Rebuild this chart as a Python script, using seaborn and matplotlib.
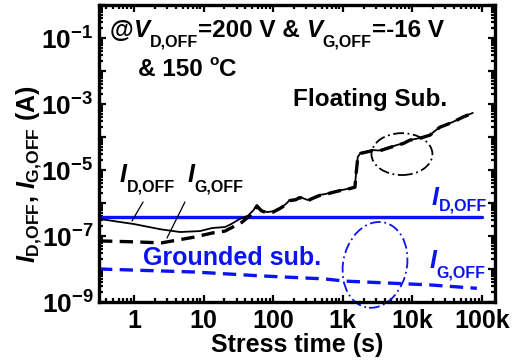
import numpy as np
import pandas as pd
import seaborn as sns
import matplotlib
matplotlib.use("Agg")
import matplotlib.pyplot as plt
from matplotlib.patches import Ellipse
from matplotlib.transforms import ScaledTranslation
from matplotlib.ticker import FixedLocator, LogLocator, FuncFormatter, NullFormatter

# ---- data -------------------------------------------------------------
# grounded substrate
gnd_id_t = [0.314, 1.0e5]
gnd_id = [3.8e-7, 3.8e-7]
gnd_ig_t = [0.314, 7.5, 65, 556, 1070, 17800, 85000]
gnd_ig = [1.0e-8, 8.1e-9, 6.2e-9, 5.0e-9, 4.3e-9, 3.3e-9, 2.6e-9]

# floating substrate
flt_id_t = [0.314, 1.0, 2.4, 4.6, 8.9, 13.2, 20.3, 25, 33.3, 43.4, 52, 58.5,
            68, 81.5, 100, 125, 150, 174, 210, 243, 280, 316, 390, 470, 580,
            723, 900, 1150, 1500, 1560, 1650, 1820, 2200, 2720, 3400, 4320,
            6010, 7500, 9240, 12900, 17900, 24900, 38300, 53300, 74300]
flt_id = [3.3e-7, 2.3e-7, 1.6e-7, 1.32e-7, 1.41e-7, 1.74e-7, 1.87e-7, 2.3e-7,
          3.3e-7, 4.1e-7, 6.0e-7, 8.7e-7, 6.0e-7, 5.3e-7, 5.6e-7, 7.1e-7,
          9.0e-7, 1.23e-6, 1.30e-6, 1.52e-6, 1.35e-6, 1.23e-6, 1.5e-6,
          1.75e-6, 1.9e-6, 2.15e-6, 2.4e-6, 2.65e-6, 3.05e-6, 8.0e-6, 2.5e-5,
          3.3e-5, 3.6e-5, 4.0e-5, 3.9e-5, 4.6e-5, 5.7e-5, 6.5e-5, 8.1e-5,
          9.3e-5, 1.14e-4, 2.0e-4, 2.84e-4, 4.05e-4, 5.37e-4]
flt_ig_t = [0.314, 0.88, 2.5, 4.3, 7.5, 13.2, 20.3, 28, 35.6, 46, 52, 58.5,
            68, 81.5, 100, 125, 150, 174, 210, 243, 280, 316, 390, 470, 580,
            723, 900, 1150, 1500, 1560, 1650, 1820, 2200, 2720, 3400, 4320,
            6010, 7500, 9240, 12900, 17900, 24900, 38300, 53300, 74300]
flt_ig = [7.1e-8, 6.7e-8, 6.2e-8, 7.6e-8, 9.3e-8, 1.23e-7, 1.41e-7, 2.0e-7,
          2.6e-7, 4.1e-7, 5.6e-7, 8.0e-7, 5.8e-7, 5.0e-7, 5.3e-7, 6.8e-7,
          8.6e-7, 1.18e-6, 1.25e-6, 1.46e-6, 1.3e-6, 1.18e-6, 1.45e-6, 1.7e-6,
          1.85e-6, 2.1e-6, 2.35e-6, 2.6e-6, 3.0e-6, 7.5e-6, 2.4e-5, 3.2e-5,
          3.5e-5, 3.9e-5, 3.8e-5, 4.5e-5, 5.6e-5, 6.4e-5, 8.0e-5, 9.2e-5,
          1.13e-4, 1.97e-4, 2.8e-4, 4.0e-4, 5.3e-4]

x_ticks = [1, 10, 100, 1e3, 1e4, 1e5]
x_tick_labels = ["1", "10", "100", "1k", "10k", "100k"]

# ---- style ------------------------------------------------------------
sns.set_theme(style="ticks")
FAM = "Liberation Sans"
plt.rcParams["font.family"] = [FAM, "DejaVu Sans"]
plt.rcParams["font.weight"] = "bold"
plt.rcParams["text.color"] = "black"
plt.rcParams["axes.labelcolor"] = "black"
plt.rcParams["xtick.color"] = "black"
plt.rcParams["ytick.color"] = "black"
plt.rcParams["mathtext.fontset"] = "custom"
plt.rcParams["mathtext.rm"] = f"{FAM}:bold"
plt.rcParams["mathtext.bf"] = f"{FAM}:bold"
plt.rcParams["mathtext.it"] = f"{FAM}:bold:italic"
plt.rcParams["mathtext.default"] = "rm"

BLUE = "#0a14f0"

fig = plt.figure(figsize=(5.21, 3.62), dpi=100)
ax = fig.add_axes([99 / 521, 1 - 302 / 362, 396 / 521, 297 / 362])
renderer = fig.canvas.get_renderer()


def frame(t, i):
    return pd.DataFrame({"t": t, "I": i})


def rich_text(x, y, runs, transform, color="black"):
    """Draw runs of (text, size, style, rise_pt) one after another on a baseline."""
    dx = 0.0
    for s, size, style, rise in runs:
        off = ScaledTranslation(dx / 72, rise / 72, fig.dpi_scale_trans)
        t = ax.text(x, y, s, transform=transform + off, fontsize=size,
                    fontstyle=style, fontweight="bold", color=color,
                    va="baseline", ha="left", clip_on=False)
        dx += t.get_window_extent(renderer).width * 72 / fig.dpi


sns.lineplot(data=frame(gnd_id_t, gnd_id), x="t", y="I", ax=ax,
             color=BLUE, lw=2.4, estimator=None, sort=False)
sns.lineplot(data=frame(gnd_ig_t, gnd_ig), x="t", y="I", ax=ax,
             color=BLUE, lw=2.4, estimator=None, sort=False)
ax.lines[-1].set_dashes([4, 2.2])
sns.lineplot(data=frame(flt_ig_t, flt_ig), x="t", y="I", ax=ax,
             color="black", lw=2.4, estimator=None, sort=False)
ax.lines[-1].set_dashes([4, 2.2])
sns.lineplot(data=frame(flt_id_t, flt_id), x="t", y="I", ax=ax,
             color="black", lw=1.3, estimator=None, sort=False)

ax.set_xscale("log")
ax.set_yscale("log")
ax.set_xlim(0.314, 1.55e5)
ax.set_ylim(1e-9, 1)

ax.xaxis.set_major_locator(FixedLocator(x_ticks))
ax.set_xticklabels(x_tick_labels)
ax.xaxis.set_minor_locator(LogLocator(base=10, subs=np.arange(2, 10), numticks=20))
ax.xaxis.set_minor_formatter(NullFormatter())

ax.yaxis.set_major_locator(LogLocator(base=10, numticks=20))
ax.yaxis.set_major_formatter(FuncFormatter(
    lambda v, p: (r"10$^{%d}$" % round(np.log10(v))) if round(np.log10(v)) % 2 else ""))
ax.yaxis.set_minor_locator(LogLocator(base=10, subs=np.arange(2, 10), numticks=20))
ax.yaxis.set_minor_formatter(NullFormatter())

ax.tick_params(which="both", direction="in", top=True, right=True, width=1.6,
               colors="black")
ax.tick_params(which="major", length=5, pad=4)
ax.tick_params(axis="x", which="major", labelsize=18, pad=5)
ax.tick_params(axis="y", which="major", labelsize=19)
ax.tick_params(which="minor", length=3)
for sp in ax.spines.values():
    sp.set_linewidth(2.4)
    sp.set_color("black")

ax.set_xlabel("Stress time (s)", fontsize=18, fontweight="bold", labelpad=0)
ax.set_ylabel(r"$\mathit{I}_{\mathrm{D{,}OFF}}$, $\mathit{I}_{\mathrm{G{,}OFF}}$ (A)",
              fontsize=18, fontweight="bold")
ax.yaxis.set_label_coords(-0.14, 0.43)

# ---- annotations ------------------------------------------------------
SUB, DROP = 11.5, -6.5
rich_text(0.028, 0.892,
          [("@", 17.5, "normal", 0), ("V", 17.5, "italic", 0),
           ("D,OFF", SUB, "normal", DROP), ("=200 V & ", 17.5, "normal", 0),
           ("V", 17.5, "italic", 0), ("G,OFF", SUB, "normal", DROP),
           ("=-16 V", 17.5, "normal", 0)], ax.transAxes)
rich_text(0.098, 0.761,
          [("& 150 ", 17.5, "normal", 0), ("o", 11, "normal", 8),
           ("C", 17.5, "normal", 0)], ax.transAxes)
ax.text(0.49, 0.66, "Floating Sub.", transform=ax.transAxes, fontsize=17.5,
        fontweight="bold", va="baseline")
ax.text(0.111, 0.125, "Grounded sub.", transform=ax.transAxes, fontsize=18,
        fontweight="bold", va="baseline", color=BLUE)

rich_text(0.63, 4.3e-6, [("I", 18, "italic", 0), ("D,OFF", SUB, "normal", -7)],
          ax.transData)
rich_text(5.8, 4.3e-6, [("I", 18, "italic", 0), ("G,OFF", SUB, "normal", -7)],
          ax.transData)
rich_text(19100, 8.7e-7, [("I", 18, "italic", 0), ("D,OFF", SUB, "normal", -4)],
          ax.transData, BLUE)
rich_text(17900, 1.07e-8, [("I", 18, "italic", 0), ("G,OFF", SUB, "normal", -7)],
          ax.transData, BLUE)

ax.annotate("", xy=(0.936, 2.85e-7), xytext=(1.35, 1.07e-6),
            arrowprops=dict(arrowstyle="-", color="black", lw=0.9,
                            shrinkA=0, shrinkB=0))
ax.annotate("", xy=(2.98, 8.7e-8), xytext=(5.4, 1.07e-6),
            arrowprops=dict(arrowstyle="-", color="black", lw=0.9,
                            shrinkA=0, shrinkB=0))

ax.add_patch(Ellipse((0.765, 0.498), 0.154, 0.141, transform=ax.transAxes,
                     fill=False, ec="black", lw=1.3, ls=(0, (6, 2, 1, 2))))
ax.add_patch(Ellipse((0.697, 0.125), 0.162, 0.29, angle=-6,
                     transform=ax.transAxes, fill=False, ec=BLUE, lw=1.3,
                     ls=(0, (6, 2, 1, 2)), clip_on=False))

fig.savefig("out.png", dpi=100)
